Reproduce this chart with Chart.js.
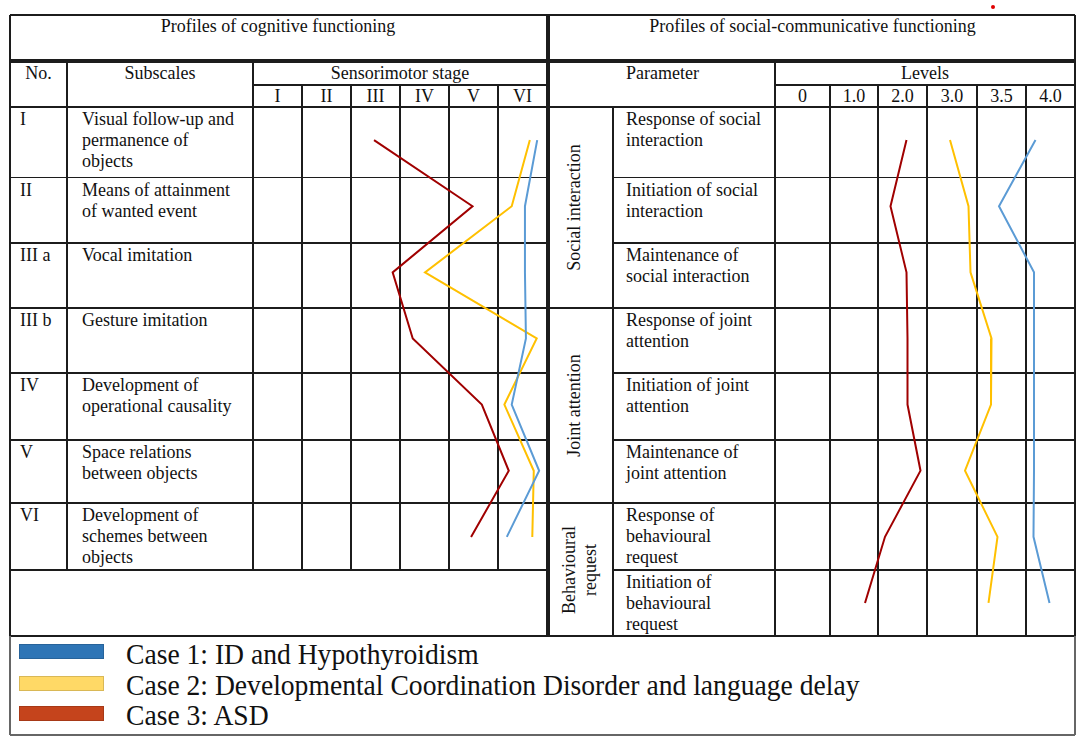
<!DOCTYPE html>
<html>
<head>
<meta charset="utf-8">
<script src="https://cdn.jsdelivr.net/npm/chart.js@4"></script>
<style>
  body { margin: 0; background: #fff; }
  #page { position: relative; width: 1084px; height: 738px; overflow: hidden;
          font-family: "Liberation Serif", "Times New Roman", serif; font-size: 18px;
          line-height: 21px; color: #111; }
  .ln { position: absolute; background: #1c1c1c; }
  .tx { position: absolute; white-space: pre; }
  .plot { position: absolute; z-index: 2; }
</style>
</head>
<body>
<div id="page">
  <div class="plot" style="left:253px;top:107px;width:294px;height:463px"><canvas id="cog"></canvas></div>
  <div class="plot" style="left:775px;top:107px;width:300px;height:529px"><canvas id="soc"></canvas></div>
</div>
<script>
// column labels
const stageLabels = ['I', 'II', 'III', 'IV', 'V', 'VI'];
const levelLabels = ['0', '1.0', '2.0', '3.0', '3.5', '4.0'];

// cognitive rows
const cogNumbers = ['I', 'II', 'III a', 'III b', 'IV', 'V', 'VI'];
const cogSubscales = [
  ['Visual follow-up and', 'permanence of', 'objects'],
  ['Means of attainment', 'of wanted event'],
  ['Vocal imitation'],
  ['Gesture imitation'],
  ['Development of', 'operational causality'],
  ['Space relations', 'between objects'],
  ['Development of', 'schemes between', 'objects']
];

// social-communicative rows
const socGroups = [['Social interaction'], ['Joint attention'], ['Behavioural', 'request']];
const socParameters = [
  ['Response of social', 'interaction'],
  ['Initiation of social', 'interaction'],
  ['Maintenance of', 'social interaction'],
  ['Response of joint', 'attention'],
  ['Initiation of joint', 'attention'],
  ['Maintenance of', 'joint attention'],
  ['Response of', 'behavioural', 'request'],
  ['Initiation of', 'behavioural', 'request']
];

const caseNames = ['Case 1: ID and Hypothyroidism',
                   'Case 2: Developmental Coordination Disorder and language delay',
                   'Case 3: ASD'];

// stage position (column centres at 1..6)
const case1Cog = [6.30, 6.05, 6.05, 6.07, 5.78, 6.34, 5.68];
const case2Cog = [6.15, 5.78, 4.01, 6.29, 5.63, 6.23, 6.20];
const case3Cog = [2.97, 4.98, 3.35, 3.76, 5.17, 5.72, 4.95];

// level column position (column centres at 0..5)
const case1Soc = [4.71, 3.98, 4.68, 4.68, 4.68, 4.68, 4.67, 4.99];
const case2Soc = [3.00, 3.37, 3.41, 3.83, 3.82, 3.30, 3.95, 3.77];
const case3Soc = [2.13, 1.81, 2.13, 2.15, 2.15, 2.41, 1.70, 1.30];

const lineColors = ['#5b9bd5', '#ffc000', '#a00000'];
const swatchColors = ['#2e75b6', '#ffd966', '#c5441c'];

const page = document.getElementById('page');

function hl(x1, x2, y, w, col) {
  const d = document.createElement('div');
  d.className = 'ln';
  d.style.cssText = `left:${x1}px;top:${y - (w || 1.5) / 2}px;width:${x2 - x1}px;height:${w || 1.5}px`;
  if (col) d.style.background = col;
  page.appendChild(d);
}
function vl(x, y1, y2, w, col) {
  const d = document.createElement('div');
  d.className = 'ln';
  d.style.cssText = `left:${x - (w || 1.5) / 2}px;top:${y1}px;width:${w || 1.5}px;height:${y2 - y1}px`;
  if (col) d.style.background = col;
  page.appendChild(d);
}
function text(str, left, top, width, align, extra) {
  const d = document.createElement('div');
  d.className = 'tx';
  d.textContent = str;
  let css = `left:${left}px;top:${top}px;`;
  if (width) css += `width:${width}px;text-align:${align || 'center'};`;
  d.style.cssText = css + (extra || '');
  page.appendChild(d);
  return d;
}

// ---- table frame ----
const rowL = [107, 177.7, 243, 308, 373, 440, 503, 570];
const rowR = [107, 177.7, 243, 308, 373, 440, 503, 570, 636];
const stageX = [253, 302, 351, 400, 449, 498, 547];
const levelX = [775, 830, 878, 927, 977, 1026, 1075];

hl(10, 1075, 15);
vl(10, 15, 636);
vl(1075, 15, 636);
hl(10, 1075, 636);
hl(10, 1075, 61, 4.5);
vl(548, 15, 636, 4.5);

// left header + grid
hl(253, 546, 85);
hl(10, 546, 107);
vl(67, 61, 570);
vl(253, 61, 570);
stageX.slice(1, -1).forEach(x => vl(x, 85, 570));
rowL.slice(1).forEach(y => hl(10, 546, y));

// right header + grid
hl(775, 1075, 85);
hl(550, 1075, 107);
vl(775, 61, 636);
levelX.slice(1, -1).forEach(x => vl(x, 85, 636));
vl(613, 107, 636);
[308, 503].forEach(y => hl(550, 1075, y));
[177.7, 243, 373, 440, 570].forEach(y => hl(613, 1075, y));

// ---- header texts ----
text('Profiles of cognitive functioning', 10, 16, 536);
text('Profiles of social-communicative functioning', 550, 16, 525);
text('No.', 10, 63, 57);
text('Subscales', 67, 63, 186);
text('Sensorimotor stage', 253, 63, 294);
stageLabels.forEach((s, i) => text(s, stageX[i], 86, stageX[i + 1] - stageX[i]));
text('Parameter', 550, 63, 225);
text('Levels', 775, 63, 300);
levelLabels.forEach((s, i) => text(s, levelX[i], 86, levelX[i + 1] - levelX[i]));

// ---- row texts ----
cogNumbers.forEach((s, i) => text(s, 20, rowL[i] + 2));
cogSubscales.forEach((s, i) => text(s.join('\n'), 82, rowL[i] + 2));
socParameters.forEach((s, i) => text(s.join('\n'), 626, rowR[i] + 2));

const groupSpans = [[107, 308], [308, 503], [503, 636]];
const groupX = [574, 574, 580];
socGroups.forEach((s, i) => {
  const cy = (groupSpans[i][0] + groupSpans[i][1]) / 2;
  const d = text(s.join('\n'), 0, 0, 200, 'center');
  d.style.left = (groupX[i] - 100) + 'px';
  d.style.top = (cy - s.length * 10.5) + 'px';
  d.style.transform = 'rotate(-90deg)';
  d.style.transformOrigin = `100px ${s.length * 10.5}px`;
});

// ---- legend ----
const legTop = [644, 676, 706];
const legText = [639, 670, 700];
hl(10, 1075, 735, 1.2, '#666');
vl(10, 636, 735, 1.2, '#666');
vl(1075, 636, 735, 1.2, '#666');
caseNames.forEach((n, i) => {
  const sw = document.createElement('div');
  sw.style.cssText = `position:absolute;left:19px;top:${legTop[i]}px;width:85px;height:15px;` +
    `background:${swatchColors[i]};border:1px solid rgba(0,0,0,0.15);box-sizing:border-box`;
  page.appendChild(sw);
  text(n, 126, legText[i], 0, '',
       'font-size:30px;line-height:30px;transform:scaleX(0.92);transform-origin:0 0;');
});

// stray red dot in the original
const dot = document.createElement('div');
dot.style.cssText = 'position:absolute;left:991px;top:5px;width:4px;height:4px;border-radius:2px;background:#e00000';
page.appendChild(dot);

// ---- profile lines ----
function profileChart(id, cats, min, max, series) {
  new Chart(document.getElementById(id), {
    type: 'line',
    data: {
      labels: cats,
      datasets: series.map((d, i) => ({
        label: caseNames[i],
        data: d,
        borderColor: lineColors[i],
        borderWidth: 2,
        pointRadius: 0,
        tension: 0,
        fill: false
      }))
    },
    options: {
      indexAxis: 'y',
      responsive: true,
      maintainAspectRatio: false,
      animation: false,
      layout: { padding: 0 },
      scales: {
        x: { type: 'linear', min: min, max: max, display: false },
        y: { type: 'category', offset: true, display: false }
      },
      plugins: { legend: { display: false }, tooltip: { enabled: false } }
    }
  });
}

profileChart('cog', cogSubscales, 0.5, 6.5, [case1Cog, case2Cog, case3Cog]);
profileChart('soc', socParameters, -0.5, 5.5, [case1Soc, case2Soc, case3Soc]);
</script>
</body>
</html>
